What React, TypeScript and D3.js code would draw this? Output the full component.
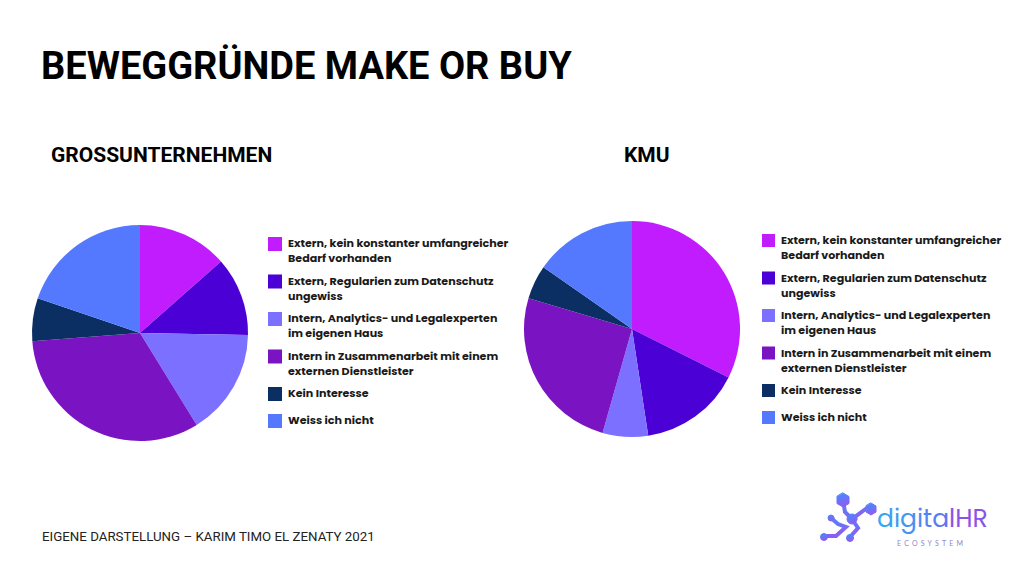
import React from "react";
import * as d3 from "d3";

const categories = [
  ["Extern, kein konstanter umfangreicher", "Bedarf vorhanden"],
  ["Extern, Regularien zum Datenschutz", "ungewiss"],
  ["Intern, Analytics- und Legalexperten", "im eigenen Haus"],
  ["Intern in Zusammenarbeit mit einem", "externen Dienstleister"],
  ["Kein Interesse"],
  ["Weiss ich nicht"],
];
const colors = ["#c11cfe", "#4b00d6", "#7b70ff", "#7a14c2", "#0c2f63", "#5479ff"];

const grossValues = [13.5, 11.8, 15.9, 32.6, 6.4, 19.8];
const kmuValues = [32.4, 15.2, 6.8, 25.2, 5.1, 15.3];

const pie = d3.pie<number>().sort(null).value((d) => d);
const arc = d3.arc<d3.PieArcDatum<number>>().innerRadius(0).outerRadius(108);

const legendFont = "Poppins, Inter, 'Noto Sans', sans-serif";

function Pie({ values, cx, cy }: { values: number[]; cx: number; cy: number }) {
  return (
    <g transform={`translate(${cx},${cy})`}>
      {pie(values).map((d, i) => (
        <path key={i} d={arc(d) || ""} fill={colors[i]} />
      ))}
    </g>
  );
}

function Legend({ x, y, sq }: { x: number; y: number; sq: number }) {
  // two-line entries are 37px apart, single-line ones 27px
  let cur = y;
  return (
    <g fontFamily={legendFont} fontWeight={700} fontSize={11.1} fill="#1a1a1a">
      {categories.map((lines, i) => {
        const top = cur;
        cur += lines.length > 1 ? 37.5 : 27;
        return (
          <g key={i} transform={`translate(${x},${top})`}>
            <rect x={0} y={0} width={sq} height={sq} fill={colors[i]} />
            {lines.map((l, j) => (
              <text key={j} x={sq + 6} y={10 + j * 15}>
                {l}
              </text>
            ))}
          </g>
        );
      })}
    </g>
  );
}

function Logo() {
  return (
    <g>
      <defs>
        <linearGradient id="lg" x1="0" y1="0" x2="0.3" y2="1">
          <stop offset="0" stopColor="#3f8cff" />
          <stop offset="1" stopColor="#8d5ef0" />
        </linearGradient>
        {/* blue "digital" fading into the purple "HR" */}
        <linearGradient id="tg" x1="0" y1="0" x2="1" y2="0">
          <stop offset="0" stopColor="#33aaf0" />
          <stop offset="0.63" stopColor="#5f74f2" />
          <stop offset="0.64" stopColor="#8a52e6" />
          <stop offset="1" stopColor="#8a52e6" />
        </linearGradient>
      </defs>
      <g fill="url(#lg)" stroke="url(#lg)" strokeLinecap="round">
        <path d="M843,500 L845,512 L852,519 L867,508" fill="none" strokeWidth={4} />
        <path d="M831,518 L838,524 L846,527 L836,536 L826,536" fill="none" strokeWidth={4} />
        <path d="M852,519 L858,528 L850,537" fill="none" strokeWidth={4} />
        <polygon points="843,493 849,496.5 849,503.5 843,507 837,503.5 837,496.5" strokeWidth={1} />
        <polygon points="871,503 876,506 876,512 871,515 866,512 866,506" strokeWidth={1} />
        <circle cx={852} cy={519} r={5} />
        <circle cx={831} cy={518} r={3} />
        <circle cx={824} cy={537} r={3.5} />
        <circle cx={850} cy={538} r={3.5} />
      </g>
      <text x={877} y={527} fontFamily="Poppins, Lato, sans-serif" fontSize={25} fill="url(#tg)">
        digitalHR
      </text>
      <text x={897} y={546} fontFamily="Lato, sans-serif" fontSize={7} letterSpacing={3.2} fill="#8f86c8">
        ECOSYSTEM
      </text>
    </g>
  );
}

export default function App() {
  return (
    <svg
      width={1024}
      height={576}
      style={{ position: "absolute", left: 0, top: 0, background: "#fff" }}
    >
      <text x={41} y={79} fontFamily="Roboto, sans-serif" fontWeight={700} fontSize={38} fill="#000">
        BEWEGGRÜNDE MAKE OR BUY
      </text>
      <text x={51} y={162} fontFamily="Roboto, sans-serif" fontWeight={700} fontSize={21} fill="#000">
        GROSSUNTERNEHMEN
      </text>
      <text x={624} y={162} fontFamily="Roboto, sans-serif" fontWeight={700} fontSize={21} fill="#000">
        KMU
      </text>
      <Pie values={grossValues} cx={140} cy={333} />
      <Pie values={kmuValues} cx={632} cy={329} />
      <Legend x={268} y={237} sq={14} />
      <Legend x={762} y={234} sq={13} />
      <text x={42} y={541} fontFamily="Roboto, sans-serif" fontSize={13.3} fill="#222">
        EIGENE DARSTELLUNG – KARIM TIMO EL ZENATY 2021
      </text>
      <Logo />
    </svg>
  );
}
